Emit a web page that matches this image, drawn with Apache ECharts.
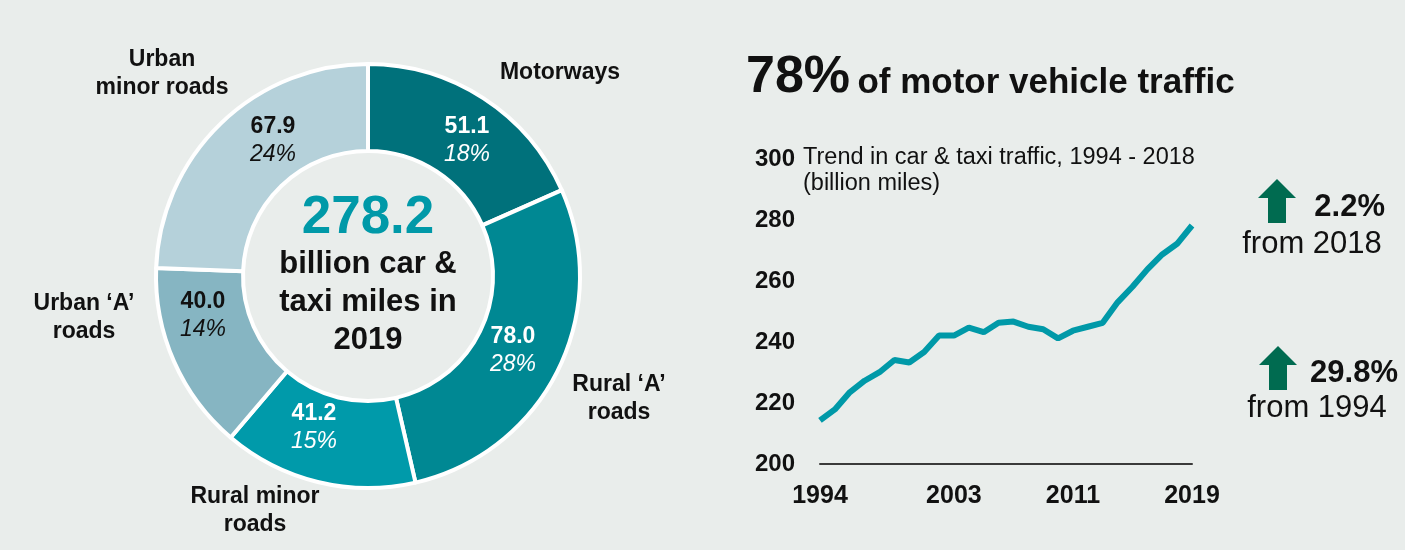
<!DOCTYPE html>
<html>
<head>
<meta charset="utf-8">
<script src="https://cdn.jsdelivr.net/npm/echarts@6/dist/echarts.min.js"></script>
<style>
  html, body { margin: 0; padding: 0; background: #e9edeb; }
  #main { width: 1405px; height: 550px; }
</style>
</head>
<body>
<div id="main"></div>
<script>
// road types, 2019 (billion miles)
const roadNames = ['Motorways', 'Rural \u2018A\u2019\nroads', 'Rural minor\nroads', 'Urban \u2018A\u2019\nroads', 'Urban\nminor roads'];
const roadMiles = [51.1, 78.0, 41.2, 40.0, 67.9];
const roadPct = ['18%', '28%', '15%', '14%', '24%'];
const roadColors = ['#00717b', '#008893', '#009aaa', '#86b5c2', '#b5d1da'];
const roadTextColors = ['#fff', '#fff', '#fff', '#111', '#111'];
const totalMiles = '278.2';

// trend, car & taxi traffic
const years = ['1994','1995','1996','1997','1998','1999','2000','2001','2002','2003','2004','2005','2006',
               '2007','2008','2009','2010','2011','2012','2013','2014','2015','2016','2017','2018','2019'];
const traffic = [214.3, 217.9, 223.5, 227.3, 230.1, 234.1, 233.3, 236.7, 242.1, 242.1, 244.7, 243.2, 246.3,
                 246.7, 245.0, 244.2, 241.2, 243.7, 245.0, 246.3, 253.0, 258.1, 263.8, 268.7, 272.2, 278.2];
const shownYears = ['1994', '2003', '2011', '2019'];

// label layout only: where names and values sit on / round the ring
const nameSpots = [[560, 73], [619, 399], [255, 511], [84, 318], [162, 74]];
const valueSpots = [[467, 141], [513, 351], [314, 428], [203, 316], [273, 141]];

const chart = echarts.init(document.getElementById('main'));
const font = "'Liberation Sans', Arial, sans-serif";

const pieData = roadMiles.map((v, i) => ({
    name: roadNames[i],
    value: v,
    itemStyle: { color: roadColors[i] },
    label: { color: roadTextColors[i] }
}));

function txt(x, y, text, css, extra) {
    return {
        type: 'text', x: x, y: y,
        style: Object.assign({ text: text, font: css + ' ' + font, fill: '#111', align: 'center', verticalAlign: 'middle' }, extra || {})
    };
}

chart.setOption({
    backgroundColor: '#e9edeb',
    textStyle: { fontFamily: font },
    grid: { left: 820, right: 213, top: 159, bottom: 86 },
    xAxis: {
        type: 'category',
        data: years,
        boundaryGap: false,
        axisLine: { lineStyle: { color: '#3a3a3a', width: 2 } },
        axisTick: { show: false },
        axisLabel: {
            interval: (idx, val) => shownYears.indexOf(val) >= 0,
            color: '#111', fontSize: 25, fontWeight: 'bold', margin: 20
        }
    },
    yAxis: {
        type: 'value',
        min: 200, max: 300, interval: 20,
        axisLine: { show: false },
        axisTick: { show: false },
        splitLine: { show: false },
        axisLabel: { color: '#111', fontSize: 24, fontWeight: 'bold', margin: 25 }
    },
    series: [
        {
            type: 'pie',
            center: [368, 276],
            radius: [125, 212],
            startAngle: 90,
            clockwise: true,
            silent: true,
            itemStyle: { borderColor: '#fff', borderWidth: 4 },
            label: {
                position: 'inside',
                formatter: p => '{v|' + p.value.toFixed(1) + '}\n{p|' + roadPct[p.dataIndex] + '}',
                rich: {
                    v: { fontSize: 23, fontWeight: 'bold', lineHeight: 28, fontFamily: font },
                    p: { fontSize: 23, fontStyle: 'italic', lineHeight: 28, fontFamily: font }
                }
            },
            labelLayout: p => ({
                x: valueSpots[p.dataIndex][0],
                y: valueSpots[p.dataIndex][1],
                align: 'center',
                verticalAlign: 'middle'
            }),
            data: pieData
        },
        {
            type: 'pie',
            center: [368, 276],
            radius: [125, 212],
            startAngle: 90,
            silent: true,
            itemStyle: { color: 'transparent' },
            label: {
                position: 'outside',
                color: '#111', fontSize: 23, fontWeight: 'bold', lineHeight: 28
            },
            labelLine: { show: false },
            labelLayout: p => ({
                x: nameSpots[p.dataIndex][0],
                y: nameSpots[p.dataIndex][1],
                align: 'center',
                verticalAlign: 'middle'
            }),
            data: roadNames.map((n, i) => ({ name: n, value: roadMiles[i] }))
        },
        {
            type: 'line',
            data: traffic,
            showSymbol: false,
            lineStyle: { color: '#0099a8', width: 6 },
            itemStyle: { color: '#0099a8' }
        }
    ],
    graphic: [
        txt(368, 218, totalMiles, 'bold 53px', { fill: '#0099a8' }),
        txt(368, 302, 'billion car &\ntaxi miles in\n2019', 'bold 31px', { lineHeight: 38 }),
        {
            type: 'text', x: 746, y: 78,
            style: {
                verticalAlign: 'middle',
                rich: {
                    a: { font: 'bold 52px ' + font, fill: '#111' },
                    b: { font: 'bold 35px ' + font, fill: '#111', padding: [10, 0, 0, 4] }
                },
                text: '{a|78%} {b|of motor vehicle traffic}'
            }
        },
        txt(803, 171, 'Trend in car & taxi traffic, 1994 - 2018\n(billion miles)', '23.5px', { align: 'left', lineHeight: 26 }),
        { type: 'polygon', shape: { points: [[1277, 179], [1296, 198], [1286, 198], [1286, 223], [1268, 223], [1268, 198], [1258, 198]] }, style: { fill: '#006b50' } },
        { type: 'polygon', shape: { points: [[1278, 346], [1297, 365], [1287, 365], [1287, 390], [1269, 390], [1269, 365], [1259, 365]] }, style: { fill: '#006b50' } },
        txt(1385, 207, '2.2%', 'bold 31px', { align: 'right' }),
        txt(1312, 244, 'from 2018', '31px'),
        txt(1398, 373, '29.8%', 'bold 31px', { align: 'right' }),
        txt(1317, 408, 'from 1994', '31px')
    ]
});
</script>
</body>
</html>
